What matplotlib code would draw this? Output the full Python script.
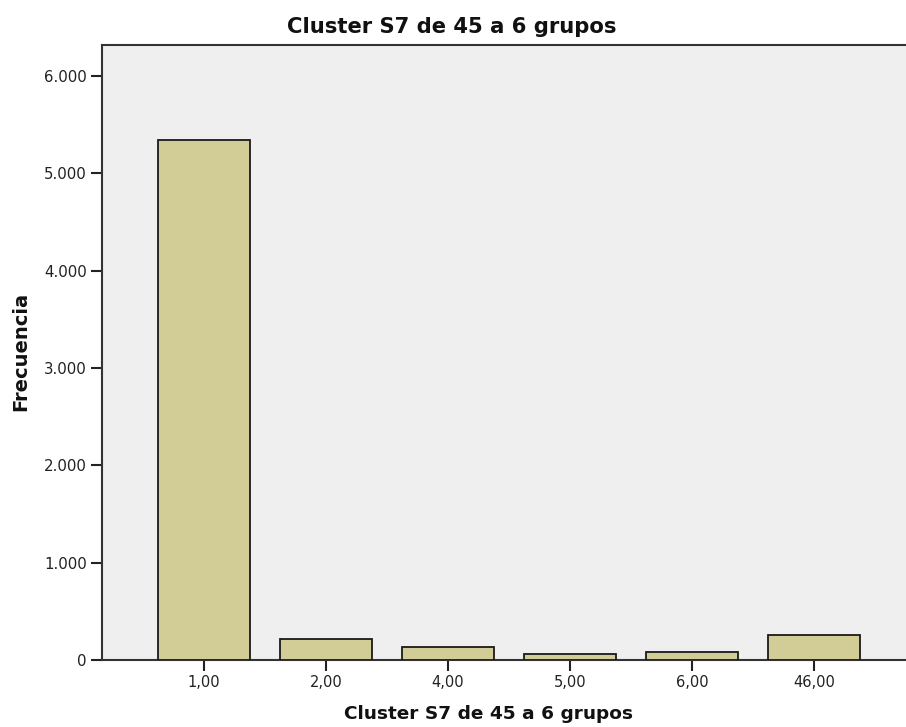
import matplotlib
matplotlib.use("Agg")
import matplotlib.pyplot as plt
import numpy as np

categories = ["1,00", "2,00", "4,00", "5,00", "6,00", "46,00"]
frequencies = [5342, 216, 134, 65, 79, 257]
yticks = [0, 1000, 2000, 3000, 4000, 5000, 6000]
ytick_labels = ["0", "1.000", "2.000", "3.000", "4.000", "5.000", "6.000"]
title = "Cluster S7 de 45 a 6 grupos"
xlabel = "Cluster S7 de 45 a 6 grupos"
ylabel = "Frecuencia"

fig = plt.figure(figsize=(9.06, 7.27), dpi=100)
ax = fig.add_axes([102/906, 1-660/727, 1-102/906, (660-45)/727])
ax.set_facecolor("#EFEFEF")

x = np.arange(len(categories))
ax.bar(x, frequencies, width=0.754, color="#D2CD96", edgecolor="#1a1a1a", linewidth=1.3, zorder=3)

ax.set_xlim(-0.836, 5.754)
ax.set_ylim(0, 6319)
ax.set_xticks(x)
ax.set_xticklabels(categories, fontsize=10.5)
ax.set_yticks(yticks)
ax.set_yticklabels(ytick_labels, fontsize=10.8)
ax.tick_params(axis="both", direction="out", length=8, width=1.5, color="#222222", labelcolor="#222222")
ax.tick_params(axis="x", pad=3)
ax.tick_params(axis="y", pad=3)

for side in ["left", "bottom", "top"]:
    ax.spines[side].set_linewidth(1.5)
    ax.spines[side].set_color("#333333")
ax.spines["right"].set_visible(False)

fig.text(452/906, 1-27/727, title, ha="center", va="center", fontsize=15.2, fontweight="bold", color="#111111")
fig.text(488/906, 1-714/727, xlabel, ha="center", va="center", fontsize=13.3, fontweight="bold", color="#111111")
fig.text(21/906, 1-351/727, ylabel, ha="center", va="center", rotation=90, fontsize=14, fontweight="bold", color="#111111")

fig.savefig("out.png", dpi=100)
